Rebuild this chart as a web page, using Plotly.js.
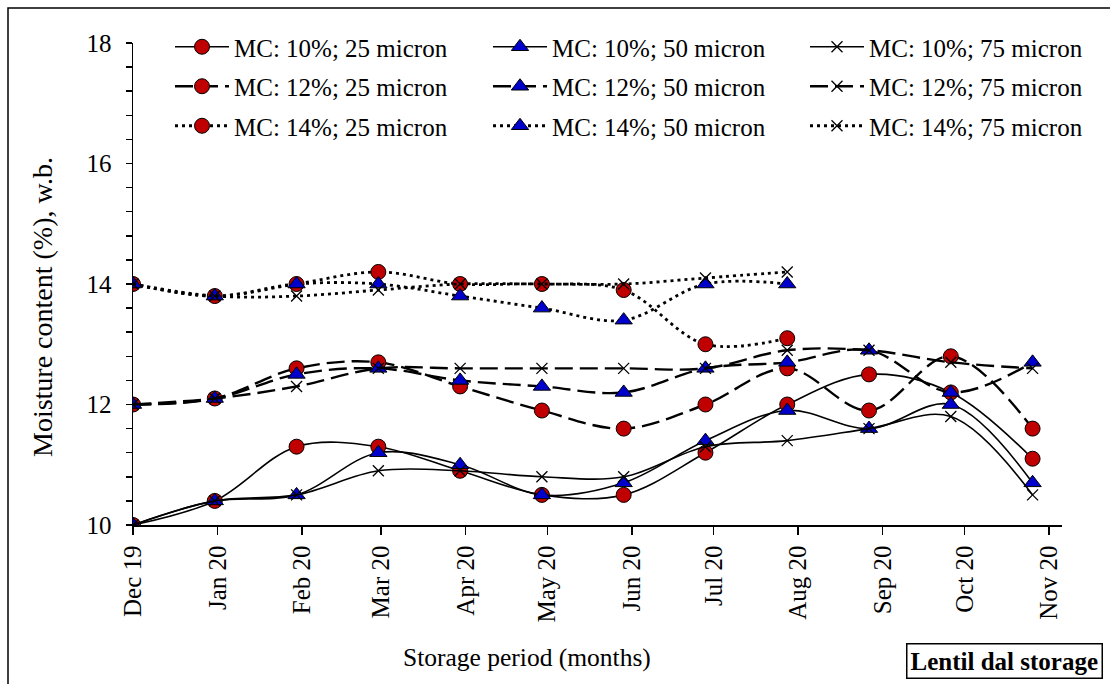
<!DOCTYPE html>
<html>
<head>
<meta charset="utf-8">
<script src="https://cdn.plot.ly/plotly-3.0.1.min.js"></script>
<style>
  html, body { margin: 0; padding: 0; background: #fff; }
  #chart { width: 1110px; height: 684px; }
</style>
</head>
<body>
<div id="chart"></div>
<script>
// Sampling dates (every 30 days of storage)
const sampleDates = ['2019-12-01','2019-12-31','2020-01-30','2020-02-29','2020-03-30','2020-04-29',
                     '2020-05-29','2020-06-28','2020-07-28','2020-08-27','2020-09-26','2020-10-26'];
// Month ticks
const tickDates = ['2019-12-01','2020-01-01','2020-02-01','2020-03-01','2020-04-01','2020-05-01',
                   '2020-06-01','2020-07-01','2020-08-01','2020-09-01','2020-10-01','2020-11-01'];
const tickLabels = ['Dec 19','Jan 20','Feb 20','Mar 20','Apr 20','May 20',
                    'Jun 20','Jul 20','Aug 20','Sep 20','Oct 20','Nov 20'];

// MC 10%
const mc10_25 = [10.0, 10.4, 11.3, 11.3, 10.9, 10.5, 10.5, 11.2, 12.0, 12.5, 12.2, 11.1];
const mc10_50 = [10.0, 10.4, 10.5, 11.2, 11.0, 10.5, 10.7, 11.4, 11.9, 11.6, 12.0, 10.7];
const mc10_75 = [10.0, 10.4, 10.5, 10.9, 10.9, 10.8, 10.8, 11.3, 11.4, 11.6, 11.8, 10.5];
// MC 12%
const mc12_25 = [12.0, 12.1, 12.6, 12.7, 12.3, 11.9, 11.6, 12.0, 12.6, 11.9, 12.8, 11.6];
const mc12_50 = [12.0, 12.1, 12.5, 12.6, 12.4, 12.3, 12.2, 12.6, 12.7, 12.9, 12.2, 12.7];
const mc12_75 = [12.0, 12.1, 12.3, 12.6, 12.6, 12.6, 12.6, 12.6, 12.9, 12.9, 12.7, 12.6];
// MC 14% (measured up to Aug 20)
const mc14_25 = [14.0, 13.8, 14.0, 14.2, 14.0, 14.0, 13.9, 13.0, 13.1];
const mc14_50 = [14.0, 13.8, 14.0, 14.0, 13.8, 13.6, 13.4, 14.0, 14.0];
const mc14_75 = [14.0, 13.8, 13.8, 13.9, 14.0, 14.0, 14.0, 14.1, 14.2];

const seriesNames = {
  mc10_25: 'MC: 10%; 25 micron', mc10_50: 'MC: 10%; 50 micron', mc10_75: 'MC: 10%; 75 micron',
  mc12_25: 'MC: 12%; 25 micron', mc12_50: 'MC: 12%; 50 micron', mc12_75: 'MC: 12%; 75 micron',
  mc14_25: 'MC: 14%; 25 micron', mc14_50: 'MC: 14%; 50 micron', mc14_75: 'MC: 14%; 75 micron'
};

const FONT = 'Liberation Serif, Times New Roman, serif';
const RED = '#C00000', BLUE = '#0000CC';

const lineStyles = {
  '10': {dash: 'solid', width: 1.6},
  '12': {dash: '18px,7px', width: 2.4},
  '14': {dash: '3px,4px', width: 2.8}
};
const markerStyles = {
  '25': {symbol: 'circle', size: 15, color: RED, line: {color: '#000', width: 1}},
  '50': {symbol: 'triangle-up', size: 15, color: BLUE, line: {color: '#000', width: 1}},
  '75': {symbol: 'x-thin', size: 11, color: '#000', line: {color: '#000', width: 1.3}}
};
const legendFor = {'25': 'legend', '50': 'legend2', '75': 'legend3'};

const dataSets = {mc10_25, mc10_50, mc10_75, mc12_25, mc12_50, mc12_75, mc14_25, mc14_50, mc14_75};
const traces = [];
['10','12','14'].forEach(mc => {
  ['25','50','75'].forEach(mu => {
    const key = 'mc' + mc + '_' + mu;
    const ys = dataSets[key];
    traces.push({
      type: 'scatter', mode: 'lines+markers',
      name: seriesNames[key],
      x: sampleDates.slice(0, ys.length), y: ys,
      line: {color: '#000', dash: lineStyles[mc].dash, width: lineStyles[mc].width, shape: 'spline', smoothing: 1},
      marker: markerStyles[mu],
      legend: legendFor[mu],
      legendgroup: key
    });
  });
});

const plotL = 133, plotR = 1062, plotT = 43, plotB = 525;
const W = 1110, H = 684;
const pw = plotR - plotL, ph = plotB - plotT;
const px = v => (v - plotL) / pw;
const py = v => (plotB - v) / ph;

const legendBase = {
  xanchor: 'left', yanchor: 'top', y: py(24),
  bgcolor: 'rgba(0,0,0,0)', borderwidth: 0,
  font: {family: FONT, size: 25, color: '#000'},
  itemwidth: 54, tracegroupgap: 4
};

const layout = {
  width: W, height: H,
  margin: {l: plotL, r: W - plotR, t: plotT, b: H - plotB},
  paper_bgcolor: '#fff', plot_bgcolor: '#fff',
  font: {family: FONT, size: 25, color: '#000'},
  showlegend: true,
  legend: Object.assign({}, legendBase, {x: px(170)}),
  legend2: Object.assign({}, legendBase, {x: px(488)}),
  legend3: Object.assign({}, legendBase, {x: px(805)}),
  xaxis: {
    type: 'date',
    range: ['2019-12-01', '2020-11-05 19:00'],
    tickmode: 'array', tickvals: tickDates, ticktext: tickLabels,
    tickangle: -90,
    ticks: 'outside', ticklen: 8, tickwidth: 1.5, tickcolor: '#000',
    showline: true, linecolor: '#000', linewidth: 1.5,
    showgrid: false, zeroline: false,
    tickfont: {family: FONT, size: 25, color: '#000'},
    ticklabelstandoff: 1
  },
  yaxis: {
    range: [10, 18], dtick: 2, tick0: 10,
    ticks: 'outside', ticklen: 6, tickwidth: 1.5, tickcolor: '#000',
    minor: {dtick: 0.4, ticks: 'outside', ticklen: 6, tickwidth: 1.5, tickcolor: '#000', showgrid: false},
    showline: true, linecolor: '#000', linewidth: 1.5,
    showgrid: false, zeroline: false,
    tickfont: {family: FONT, size: 25, color: '#000'},
    ticklabelstandoff: 9
  },
  shapes: [{
    type: 'rect', xref: 'paper', yref: 'paper',
    x0: px(8), x1: px(1114), y0: py(690), y1: py(8),
    line: {color: '#000', width: 1.5}, fillcolor: 'rgba(0,0,0,0)', layer: 'below'
  }],
  annotations: [
    {xref: 'paper', yref: 'paper', x: px(527), y: py(657), text: 'Storage period (months)',
     showarrow: false, font: {family: FONT, size: 25.5, color: '#000'}, xanchor: 'center', yanchor: 'middle'},
    {xref: 'paper', yref: 'paper', x: px(42), y: py(307), text: 'Moisture content (%), w.b.',
     textangle: -90, showarrow: false, font: {family: FONT, size: 28, color: '#000'}, xanchor: 'center', yanchor: 'middle'},
    {xref: 'paper', yref: 'paper', x: px(1004), y: py(661), text: '<b>Lentil dal storage</b>',
     showarrow: false, font: {family: FONT, size: 25, color: '#000'}, xanchor: 'center', yanchor: 'middle',
     bordercolor: '#000', borderwidth: 1.5, borderpad: 3, bgcolor: '#fff'}
  ]
};

Plotly.newPlot('chart', traces, layout, {staticPlot: true, displayModeBar: false});
</script>
</body>
</html>
